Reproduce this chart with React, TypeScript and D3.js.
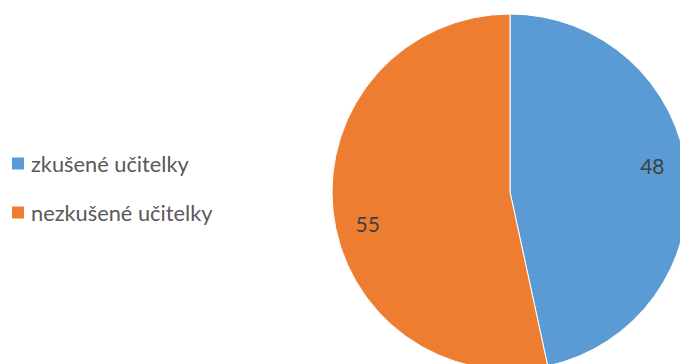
import React from "react";
import * as d3 from "d3";

const categories = ["zkušené učitelky", "nezkušené učitelky"];
const values = [48, 55];
const colors = ["#5B9BD5", "#ED7D31"];

const W = 680;
const H = 364;

export default function App() {
  const cx = 510;
  const cy = 192;
  const r = 178;
  const pie = d3.pie<number>().sort(null).value((d) => d);
  const arcs = pie(values);
  const arc = d3.arc<d3.PieArcDatum<number>>().innerRadius(0).outerRadius(r);
  const labelArc = d3.arc<d3.PieArcDatum<number>>().innerRadius(r * 0.81).outerRadius(r * 0.81);
  const labelNudge = [[-1, -11], [1, 16]];
  const legendY = d3.scaleBand<string>().domain(categories).range([139, 237]);
  const font = "Lato, sans-serif";
  return (
    <svg width={W} height={H} style={{ position: "absolute", left: 0, top: 0 }}>
      <rect width={W} height={H} fill="#fff" />
      <g transform={`translate(${cx},${cy})`}>
        {arcs.map((a, i) => (
          <path key={i} d={arc(a) || ""} fill={colors[i]} stroke="#fff" strokeWidth={1} />
        ))}
        {arcs.map((a, i) => {
          const [x, y] = labelArc.centroid(a);
          return (
            <text key={i} x={x + labelNudge[i][0]} y={y + labelNudge[i][1]} textAnchor="middle" dominantBaseline="central"
              fontFamily={font} fontSize={21} fill="#404040">{values[i]}</text>
          );
        })}
      </g>
      {categories.map((c, i) => {
        const y = (legendY(c) || 0) + legendY.bandwidth() / 2;
        return (
          <g key={c}>
            <rect x={12} y={y - 6} width={12} height={12} fill={colors[i]} />
            <text x={31} y={y} dominantBaseline="central" fontFamily={font} fontSize={21.8} fill="#595959">{c}</text>
          </g>
        );
      })}
    </svg>
  );
}
